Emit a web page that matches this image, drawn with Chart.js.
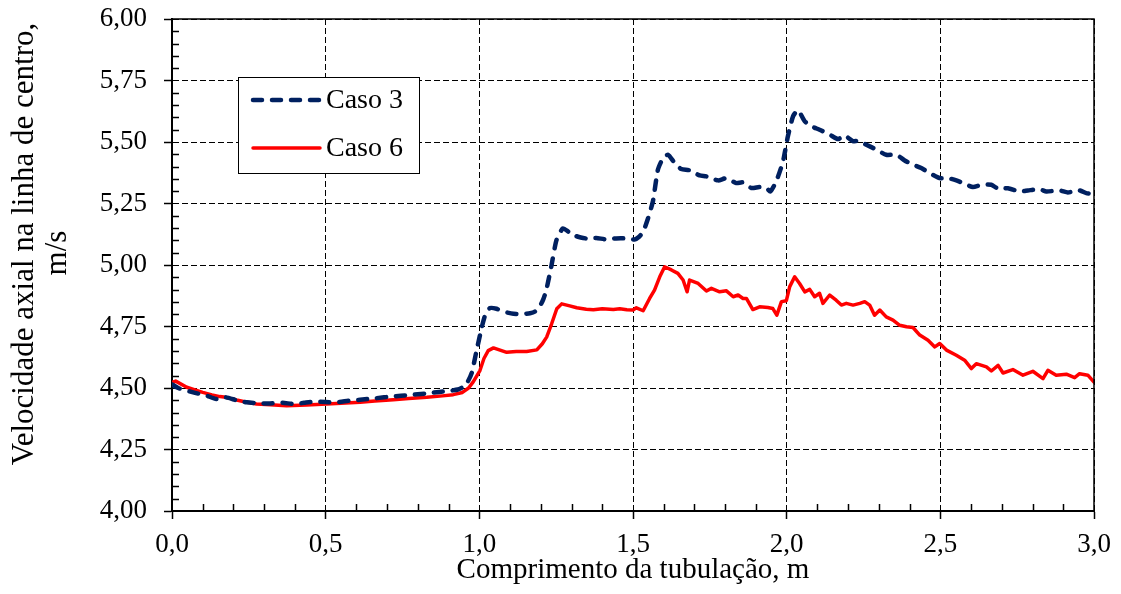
<!DOCTYPE html>
<html>
<head>
<meta charset="utf-8">
<script src="https://cdn.jsdelivr.net/npm/chart.js@4.4.1/dist/chart.umd.min.js"></script>
<style>
  html, body { margin: 0; padding: 0; background: #fff; }
  #wrap { width: 1121px; height: 594px; }
</style>
</head>
<body>
<div id="wrap"><canvas id="chart" width="1121" height="594"></canvas></div>
<script>
// data
const caso3X = [0.000, 0.020, 0.069, 0.110, 0.145, 0.175, 0.210, 0.243, 0.280, 0.319, 0.360, 0.395, 0.430, 0.460, 0.500,
  0.536, 0.575, 0.612, 0.660, 0.720, 0.770, 0.829, 0.870, 0.905, 0.930, 0.948, 0.962, 0.975, 0.991, 1.008,
  1.020, 1.035, 1.056, 1.080, 1.111, 1.140, 1.165, 1.180, 1.196, 1.208, 1.218, 1.234, 1.251, 1.272, 1.290,
  1.305, 1.330, 1.348, 1.380, 1.413, 1.445, 1.478, 1.505, 1.520, 1.533, 1.549, 1.565, 1.581, 1.598, 1.614,
  1.636, 1.657, 1.684, 1.717, 1.739, 1.777, 1.804, 1.836, 1.858, 1.885, 1.912, 1.934, 1.947, 1.966, 1.988,
  2.004, 2.021, 2.037, 2.059, 2.080, 2.107, 2.140, 2.167, 2.189, 2.216, 2.232, 2.259, 2.292, 2.324, 2.357,
  2.384, 2.411, 2.438, 2.465, 2.498, 2.525, 2.552, 2.574, 2.606, 2.633, 2.666, 2.688, 2.720, 2.758, 2.785,
  2.823, 2.845, 2.888, 2.915, 2.953, 2.975, 3.000]
const caso3Y = [4.515, 4.500, 4.482, 4.470, 4.455, 4.462, 4.450, 4.442, 4.438, 4.437, 4.440, 4.435, 4.440, 4.444, 4.443,
  4.442, 4.448, 4.452, 4.458, 4.466, 4.471, 4.478, 4.484, 4.489, 4.494, 4.505, 4.525, 4.560, 4.652, 4.747,
  4.800, 4.825, 4.822, 4.810, 4.802, 4.801, 4.804, 4.810, 4.831, 4.860, 4.899, 4.993, 5.101, 5.149, 5.135,
  5.122, 5.112, 5.108, 5.110, 5.104, 5.108, 5.108, 5.104, 5.115, 5.135, 5.190, 5.260, 5.387, 5.435, 5.448,
  5.414, 5.390, 5.385, 5.364, 5.360, 5.344, 5.353, 5.333, 5.336, 5.313, 5.317, 5.313, 5.299, 5.340, 5.421,
  5.523, 5.605, 5.629, 5.584, 5.564, 5.550, 5.530, 5.512, 5.526, 5.503, 5.505, 5.489, 5.469, 5.448, 5.448,
  5.425, 5.408, 5.394, 5.374, 5.353, 5.353, 5.344, 5.333, 5.317, 5.326, 5.326, 5.310, 5.312, 5.299, 5.303,
  5.308, 5.299, 5.303, 5.295, 5.303, 5.292, 5.288]

const caso6X = [0.000, 0.012, 0.048, 0.075, 0.100, 0.130, 0.156, 0.175, 0.210, 0.240, 0.275, 0.320, 0.373, 0.438, 0.503,
  0.550, 0.612, 0.660, 0.720, 0.770, 0.829, 0.880, 0.915, 0.945, 0.965, 0.980, 1.002, 1.015, 1.029, 1.046,
  1.065, 1.089, 1.120, 1.154, 1.187, 1.205, 1.219, 1.235, 1.252, 1.268, 1.294, 1.317, 1.348, 1.371, 1.400,
  1.436, 1.457, 1.480, 1.500, 1.511, 1.533, 1.554, 1.570, 1.587, 1.603, 1.625, 1.646, 1.663, 1.676, 1.684,
  1.712, 1.739, 1.755, 1.782, 1.804, 1.826, 1.842, 1.858, 1.869, 1.890, 1.912, 1.939, 1.955, 1.968, 1.983,
  1.999, 2.010, 2.026, 2.042, 2.059, 2.075, 2.091, 2.107, 2.118, 2.140, 2.161, 2.178, 2.194, 2.216, 2.238,
  2.254, 2.270, 2.286, 2.303, 2.324, 2.346, 2.368, 2.390, 2.411, 2.433, 2.460, 2.482, 2.498, 2.520, 2.552,
  2.579, 2.601, 2.617, 2.650, 2.666, 2.688, 2.704, 2.736, 2.769, 2.801, 2.834, 2.850, 2.877, 2.910, 2.937,
  2.953, 2.980, 3.000]
const caso6Y = [4.523, 4.528, 4.503, 4.492, 4.482, 4.472, 4.465, 4.462, 4.451, 4.443, 4.435, 4.432, 4.428, 4.431, 4.435,
  4.438, 4.442, 4.447, 4.452, 4.457, 4.462, 4.468, 4.473, 4.482, 4.500, 4.525, 4.571, 4.620, 4.652, 4.663,
  4.655, 4.645, 4.648, 4.648, 4.655, 4.680, 4.707, 4.760, 4.822, 4.842, 4.834, 4.826, 4.820, 4.818, 4.822,
  4.819, 4.822, 4.818, 4.817, 4.826, 4.814, 4.864, 4.898, 4.952, 4.993, 4.980, 4.966, 4.939, 4.891, 4.939,
  4.925, 4.894, 4.905, 4.891, 4.895, 4.871, 4.878, 4.864, 4.864, 4.819, 4.830, 4.827, 4.823, 4.796, 4.851,
  4.855, 4.912, 4.952, 4.925, 4.891, 4.901, 4.871, 4.885, 4.844, 4.878, 4.857, 4.837, 4.844, 4.837, 4.844,
  4.851, 4.837, 4.796, 4.817, 4.789, 4.776, 4.755, 4.749, 4.746, 4.715, 4.694, 4.667, 4.681, 4.654, 4.633,
  4.613, 4.579, 4.599, 4.586, 4.569, 4.592, 4.561, 4.575, 4.552, 4.568, 4.538, 4.572, 4.552, 4.556, 4.542,
  4.558, 4.552, 4.524]

const seriesNames = ['Caso 3', 'Caso 6']
const yTitleLines = ['Velocidade axial na linha de centro,', 'm/s']
const xTitle = 'Comprimento da tubulação, m'

const FONT = '"Liberation Serif", "Times New Roman", serif'

const toPoints = (xs, ys) => xs.map((x, i) => ({ x: x, y: ys[i] }))

// minor ticks, top/right frame, y title and the boxed legend
const decorations = {
    id: 'decorations',
    afterDraw(chart) {
        const { ctx, chartArea: a, scales } = chart
        ctx.save()
        ctx.strokeStyle = '#000'
        ctx.lineWidth = 1.5
        ctx.beginPath()
        for (let i = 1; i < 30; i++) {
            if (i % 5 === 0) continue
            const px = Math.round(scales.x.getPixelForValue(i / 10)) + 0.5
            ctx.moveTo(px, a.bottom)
            ctx.lineTo(px, a.bottom - 7)
        }
        for (let i = 1; i < 40; i++) {
            if (i % 5 === 0) continue
            const py = Math.round(scales.y.getPixelForValue(4 + i * 0.05)) + 0.5
            ctx.moveTo(a.left, py)
            ctx.lineTo(a.left + 7, py)
        }
        ctx.stroke()

        ctx.lineWidth = 1.5
        ctx.beginPath()
        ctx.moveTo(a.left, a.top)
        ctx.lineTo(a.right, a.top)
        ctx.lineTo(a.right, a.bottom)
        ctx.stroke()

        // y axis title, two lines
        ctx.fillStyle = '#000'
        ctx.font = '31px ' + FONT
        ctx.textAlign = 'center'
        ctx.textBaseline = 'alphabetic'
        const yPos = [[33, 244], [66, 253]]
        yTitleLines.forEach((t, i) => {
            ctx.save()
            ctx.translate(yPos[i][0], yPos[i][1])
            ctx.rotate(-Math.PI / 2)
            ctx.fillText(t, 0, 0)
            ctx.restore()
        })

        // legend
        const bx = 238.5, by = 77.5, bw = 181, bh = 96
        ctx.fillStyle = '#fff'
        ctx.fillRect(bx, by, bw, bh)
        ctx.lineWidth = 1
        ctx.strokeStyle = '#000'
        ctx.strokeRect(bx, by, bw, bh)
        const rows = [100, 148]
        chart.data.datasets.forEach((ds, i) => {
            ctx.save()
            ctx.strokeStyle = ds.borderColor
            ctx.lineWidth = ds.borderWidth
            ctx.lineCap = 'round'
            ctx.setLineDash(ds.borderDash || [])
            ctx.beginPath()
            ctx.moveTo(253, rows[i])
            ctx.lineTo(320, rows[i])
            ctx.stroke()
            ctx.restore()
            ctx.fillStyle = '#000'
            ctx.font = '28px ' + FONT
            ctx.textAlign = 'left'
            ctx.textBaseline = 'middle'
            ctx.fillText(ds.label, 326, rows[i] + 1)
        })
        ctx.restore()
    }
}

const ctx = document.getElementById('chart').getContext('2d')
new Chart(ctx, {
    type: 'line',
    data: {
        datasets: [{
            label: seriesNames[0],
            data: toPoints(caso3X, caso3Y),
            borderColor: '#002060',
            borderWidth: 4.5,
            borderDash: [9, 10],
            borderCapStyle: 'round',
            pointRadius: 0,
            tension: 0.2
        }, {
            label: seriesNames[1],
            data: toPoints(caso6X, caso6Y),
            borderColor: '#ff0000',
            borderWidth: 3.5,
            borderCapStyle: 'round',
            borderJoinStyle: 'round',
            pointRadius: 0,
            tension: 0
        }]
    },
    options: {
        responsive: false,
        animation: false,
        layout: { padding: { top: 19, right: 27, left: 0, bottom: 0 } },
        scales: {
            x: {
                type: 'linear',
                min: 0,
                max: 3,
                afterFit: (s) => { s.height = 83; s.paddingLeft = 0; s.paddingRight = 0 },
                ticks: {
                    stepSize: 0.5,
                    padding: 10,
                    color: '#000',
                    font: { family: FONT, size: 27 },
                    callback: (v) => v.toFixed(1).replace('.', ',')
                },
                grid: { color: '#000', lineWidth: 1, tickLength: 8, tickColor: '#000', tickWidth: 1.5 },
                border: { display: true, color: '#000', width: 2, dash: [6, 3] },
                title: {
                    display: true,
                    text: xTitle,
                    color: '#000',
                    font: { family: FONT, size: 29 },
                    padding: { top: 0, bottom: 6 }
                }
            },
            y: {
                min: 4,
                max: 6,
                afterFit: (s) => { s.width = 172; s.paddingTop = 0; s.paddingBottom = 0 },
                ticks: {
                    stepSize: 0.25,
                    padding: 17,
                    color: '#000',
                    font: { family: FONT, size: 27 },
                    callback: (v) => v.toFixed(2).replace('.', ',')
                },
                grid: { color: '#000', lineWidth: 1, tickLength: 8, tickColor: '#000', tickWidth: 1.5 },
                border: { display: true, color: '#000', width: 2, dash: [6, 3] }
            }
        },
        plugins: {
            legend: { display: false },
            tooltip: { enabled: false }
        }
    },
    plugins: [decorations]
})
</script>
</body>
</html>
